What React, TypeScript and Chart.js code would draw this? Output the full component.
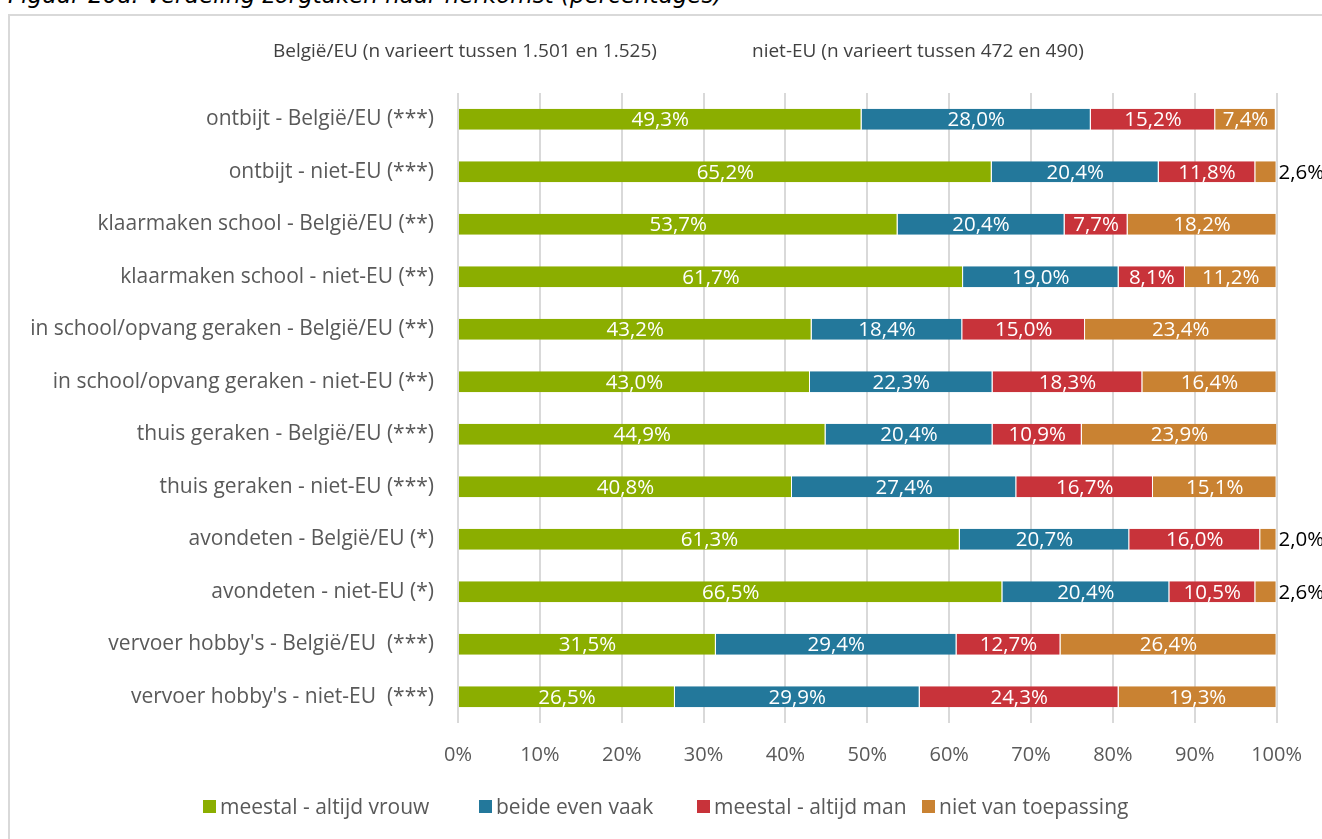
import React, { useEffect, useRef } from "react";
import { Chart, registerables } from "chart.js";

Chart.register(...registerables);

const categories = [
  "ontbijt - België/EU (***)",
  "ontbijt - niet-EU (***)",
  "klaarmaken school - België/EU (**)",
  "klaarmaken school - niet-EU (**)",
  "in school/opvang geraken - België/EU (**)",
  "in school/opvang geraken - niet-EU (**)",
  "thuis geraken - België/EU (***)",
  "thuis geraken - niet-EU (***)",
  "avondeten - België/EU (*)",
  "avondeten - niet-EU (*)",
  "vervoer hobby's - België/EU  (***)",
  "vervoer hobby's - niet-EU  (***)",
];

const seriesNames = ["meestal - altijd vrouw", "beide even vaak", "meestal - altijd man", "niet van toepassing"];
const seriesColors = ["#8BAE00", "#23789B", "#C8333A", "#C98232"];

const vrouw = [49.3, 65.2, 53.7, 61.7, 43.2, 43.0, 44.9, 40.8, 61.3, 66.5, 31.5, 26.5];
const beide = [28.0, 20.4, 20.4, 19.0, 18.4, 22.3, 20.4, 27.4, 20.7, 20.4, 29.4, 29.9];
const man = [15.2, 11.8, 7.7, 8.1, 15.0, 18.3, 10.9, 16.7, 16.0, 10.5, 12.7, 24.3];
const nvt = [7.4, 2.6, 18.2, 11.2, 23.4, 16.4, 23.9, 15.1, 2.0, 2.6, 26.4, 19.3];

const xTicks = [0, 10, 20, 30, 40, 50, 60, 70, 80, 90, 100];

const FONT = "'Open Sans', sans-serif";

const fmt = (v: number) => v.toFixed(1).replace(".", ",") + "%";

const labelPlugin = {
  id: "barLabels",
  afterDatasetsDraw(chart: any) {
    const ctx = chart.ctx;
    ctx.save();
    ctx.font = `20.5px ${FONT}`;
    ctx.textBaseline = "middle";
    chart.data.datasets.forEach((ds: any, di: number) => {
      const meta = chart.getDatasetMeta(di);
      meta.data.forEach((el: any, i: number) => {
        const v = ds.data[i];
        const x0 = Math.min(el.x, el.base);
        const x1 = Math.max(el.x, el.base);
        const w = x1 - x0;
        const txt = fmt(v);
        const tw = ctx.measureText(txt).width;
        if (tw + 4 > w) {
          ctx.fillStyle = "#000000";
          ctx.textAlign = "left";
          ctx.fillText(txt, x1 + 2, el.y + 1);
        } else {
          ctx.fillStyle = "#FFFFFF";
          ctx.textAlign = "center";
          ctx.fillText(txt, (x0 + x1) / 2, el.y + 1);
        }
      });
    });
    ctx.restore();
  },
};

export default function App() {
  const ref = useRef<HTMLCanvasElement>(null);

  useEffect(() => {
    if (!ref.current) return;
    const data = [vrouw, beide, man, nvt];
    const chart = new Chart(ref.current, {
      type: "bar",
      data: {
        labels: categories,
        datasets: data.map((d, i) => ({
          label: seriesNames[i],
          data: d,
          backgroundColor: seriesColors[i],
          borderColor: "#FFFFFF",
          borderWidth: { left: 0, right: 1, top: 0, bottom: 0 } as any,
          borderSkipped: false,
          barPercentage: 0.4,
          categoryPercentage: 1,
        })),
      },
      options: {
        indexAxis: "y",
        responsive: false,
        animation: false,
        maintainAspectRatio: false,
        layout: { padding: { top: 77, right: 39, bottom: 10, left: 0 } },
        plugins: {
          legend: { display: false },
          tooltip: { enabled: false },
          title: { display: false },
        },
        scales: {
          x: {
            stacked: true,
            min: 0,
            max: 100,
            afterBuildTicks: (scale: any) => {
              scale.ticks = xTicks.map((v) => ({ value: v }));
            },
            afterFit: (scale: any) => {
              scale.height = 60;
            },
            grid: { color: "#D9D9D9", lineWidth: 2, drawTicks: false },
            border: { display: false },
            ticks: {
              padding: 20,
              color: "#595959",
              font: { family: FONT, size: 20 },
              callback: (v: any) => v + "%",
            },
          },
          y: {
            stacked: true,
            afterFit: (scale: any) => {
              scale.width = 448;
            },
            grid: { display: false, drawTicks: false },
            border: { display: false },
            ticks: {
              padding: 24,
              color: "#595959",
              font: { family: FONT, size: 21 },
              autoSkip: false,
            },
          },
        },
      },
      plugins: [labelPlugin],
    });
    return () => chart.destroy();
  }, []);

  return (
    <div style={{ position: "fixed", left: 0, top: 0, width: 1322, height: 839, overflow: "hidden", background: "#fff" }}>
      <div
        style={{
          position: "absolute",
          left: 8,
          top: -18,
          fontFamily: "'DejaVu Sans', sans-serif",
          fontStyle: "italic",
          fontSize: 23,
          color: "#000",
          whiteSpace: "nowrap",
        }}
      >
        Figuur 20a: Verdeling zorgtaken naar herkomst (percentages)
      </div>
      <div
        style={{
          position: "absolute",
          left: 8,
          top: 14,
          width: 1340,
          height: 840,
          border: "2px solid #D9D9D9",
          boxSizing: "border-box",
        }}
      >
        <canvas ref={ref} width={1312} height={777} style={{ display: "block", width: 1312, height: 777 }} />
        <div style={{ position: "absolute", left: 263, top: 21, fontFamily: FONT, fontSize: 19, color: "#404040", whiteSpace: "nowrap" }}>
          België/EU (n varieert tussen 1.501 en 1.525)
        </div>
        <div style={{ position: "absolute", left: 742, top: 21, fontFamily: FONT, fontSize: 19, color: "#404040", whiteSpace: "nowrap" }}>
          niet-EU (n varieert tussen 472 en 490)
        </div>
        {seriesNames.map((n, i) => {
          const lefts = [193, 469, 687, 912];
          return (
            <div
              key={n}
              style={{
                position: "absolute",
                left: lefts[i],
                top: 776,
                display: "flex",
                alignItems: "center",
                fontFamily: FONT,
                fontSize: 21,
                color: "#595959",
                whiteSpace: "nowrap",
              }}
            >
              <span style={{ display: "inline-block", width: 13, height: 13, background: seriesColors[i], marginRight: 4 }} />
              {n}
            </div>
          );
        })}
      </div>
    </div>
  );
}
